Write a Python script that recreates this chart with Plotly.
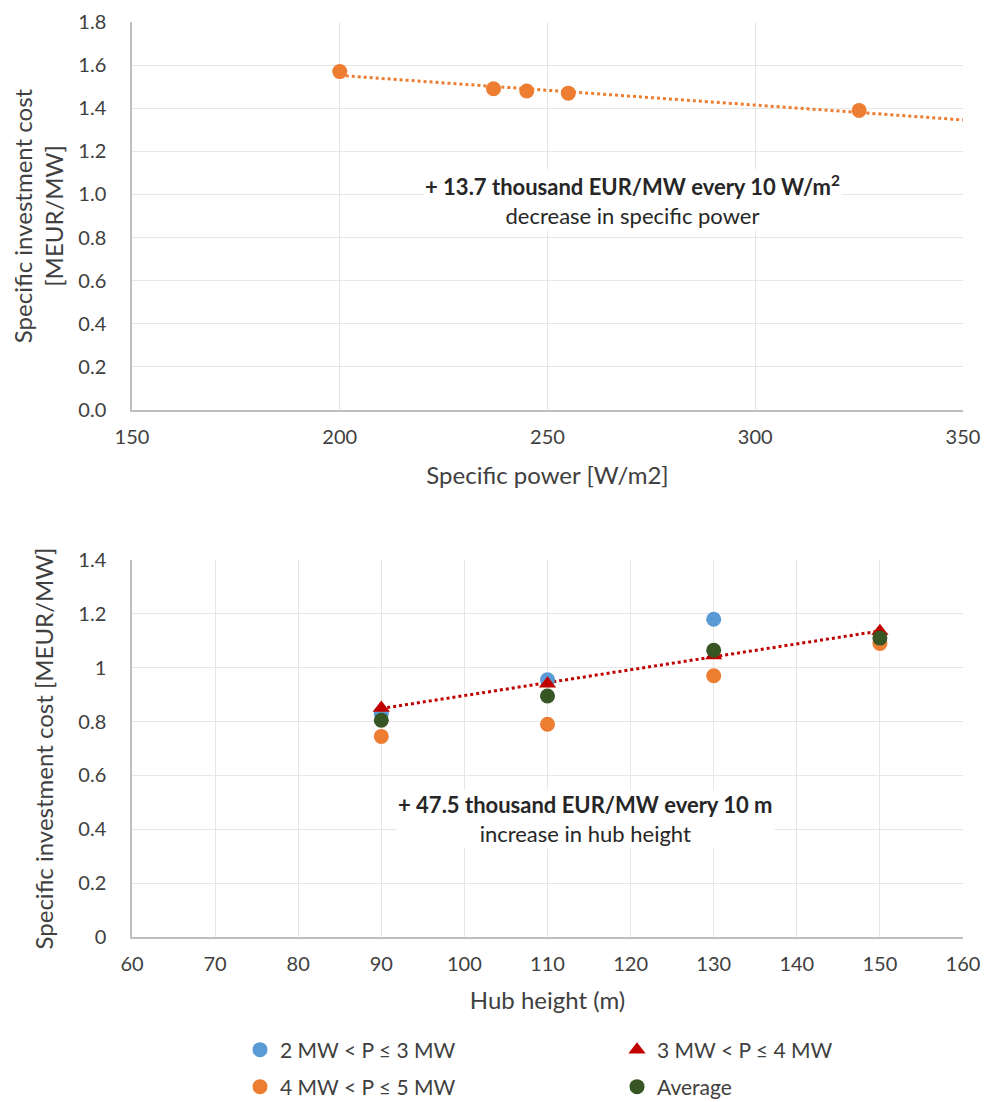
import numpy as np
import plotly.graph_objects as go
from plotly.subplots import make_subplots

# ---- Top chart data ----
sp_power = [200, 237, 245, 255, 325]
sp_cost = [1.57, 1.49, 1.48, 1.47, 1.39]

# ---- Bottom chart data ----
hub_blue = [90, 110, 130]
cost_blue = [0.83, 0.955, 1.18]
hub_red = [90, 110, 130, 150]
cost_red = [0.85, 0.94, 1.045, 1.135]
hub_orange = [90, 110, 130, 150]
cost_orange = [0.745, 0.79, 0.97, 1.09]
hub_avg = [90, 110, 130, 150]
cost_avg = [0.805, 0.895, 1.065, 1.11]

names = ["2 MW < P ≤ 3 MW", "3 MW < P ≤ 4 MW", "4 MW < P ≤ 5 MW", "Average"]
c_blue, c_red, c_orange, c_green = "#5B9BD5", "#C00000", "#ED7D31", "#375623"

FONT = "Lato, 'Open Sans', sans-serif"
TXT = "#404040"

fig = make_subplots(rows=2, cols=1)

# top: least-squares trendline (as in Excel), forward to 350
m1, b1 = np.polyfit(sp_power, sp_cost, 1)
tx = np.array([min(sp_power), 350])
fig.add_trace(go.Scatter(x=tx, y=m1 * tx + b1, mode="lines",
                         line=dict(color=c_orange, width=3, dash="dot"),
                         showlegend=False, hoverinfo="skip"), row=1, col=1)
fig.add_trace(go.Scatter(x=sp_power, y=sp_cost, mode="markers",
                         marker=dict(color=c_orange, size=15),
                         showlegend=False), row=1, col=1)

# bottom
m2, b2 = np.polyfit(hub_red, cost_red, 1)
tx2 = np.array([min(hub_red), max(hub_red)])
fig.add_trace(go.Scatter(x=tx2, y=m2 * tx2 + b2, mode="lines",
                         line=dict(color=c_red, width=3, dash="dot"),
                         showlegend=False, hoverinfo="skip"), row=2, col=1)
fig.add_trace(go.Scatter(x=hub_blue, y=cost_blue, mode="markers", name=names[0],
                         legend="legend",
                         marker=dict(color=c_blue, size=15)), row=2, col=1)
fig.add_trace(go.Scatter(x=hub_red, y=cost_red, mode="markers", name=names[1],
                         legend="legend",
                         marker=dict(color=c_red, size=15, symbol="triangle-up")), row=2, col=1)
fig.add_trace(go.Scatter(x=hub_orange, y=cost_orange, mode="markers", name=names[2],
                         legend="legend2",
                         marker=dict(color=c_orange, size=15)), row=2, col=1)
fig.add_trace(go.Scatter(x=hub_avg, y=cost_avg, mode="markers", name=names[3],
                         legend="legend2",
                         marker=dict(color=c_green, size=15)), row=2, col=1)

# page body adds an 8px offset; figure sized to fit the window
OFF = 8
W, H = 1003 - OFF, 1102 - OFF
ml, mr, mt = 132 - OFF, 40, 22 - OFF
mb = H + OFF - 937
ph = H - mt - mb
pw = W - ml - mr


def py(pix):
    """window pixel row -> paper y"""
    return (937 - pix) / ph


top_lo = py(410)
bot_hi = py(560)

axis_common = dict(showgrid=True, gridcolor="#E6E6E6", gridwidth=1,
                   showline=True, linecolor="#BFBFBF", linewidth=1.5,
                   zeroline=False, ticks="", automargin=False,
                   ticklabeloverflow="allow",
                   tickfont=dict(family=FONT, size=20, color=TXT),
                   title_font=dict(family=FONT, size=24, color=TXT))

fig.update_xaxes(**axis_common, ticklabelstandoff=8)
fig.update_yaxes(**axis_common, ticklabelstandoff=20)

fig.update_xaxes(range=[150, 350], dtick=50, title_text="Specific power [W/m2]",
                 title_standoff=20, row=1, col=1)
fig.update_yaxes(range=[0, 1.8], tick0=0, dtick=0.2, tickformat=".1f",
                 title_text="Specific investment cost<br>[MEUR/MW]",
                 title_standoff=12, domain=[top_lo, 1], row=1, col=1)
fig.update_xaxes(range=[60, 160], dtick=10, title_text="Hub height (m)",
                 title_standoff=18, row=2, col=1)
fig.update_yaxes(range=[0, 1.4], tick0=0, dtick=0.2,
                 title_text="Specific investment cost [MEUR/MW]",
                 title_standoff=18, domain=[0, bot_hi], row=2, col=1)

fig.add_annotation(xref="x", yref="y", x=270.5, y=0.974,
                   text="<b>+ 13.7 thousand EUR/MW every 10 W/m<sup>2</sup></b><br>decrease in specific power",
                   showarrow=False, bgcolor="white",
                   font=dict(family=FONT, size=22, color="#262626"))
fig.add_annotation(xref="x2", yref="y2", x=114.6, y=0.438,
                   text="<b>+ 47.5 thousand EUR/MW every 10 m</b><br>increase in hub height",
                   showarrow=False, bgcolor="white",
                   font=dict(family=FONT, size=22, color="#262626"))

legend_common = dict(orientation="h", xanchor="left", yanchor="middle",
                     x=(240 - 132) / pw,
                     entrywidth=332, entrywidthmode="pixels",
                     font=dict(family=FONT, size=21, color=TXT),
                     bgcolor="rgba(0,0,0,0)")

fig.update_layout(
    width=W, height=H,
    margin=dict(l=ml, r=mr, t=mt, b=mb, autoexpand=False),
    paper_bgcolor="white", plot_bgcolor="white",
    font=dict(family=FONT, color=TXT),
    legend=dict(**legend_common, y=py(1050)),
    legend2=dict(**legend_common, y=py(1087)),
)

fig.write_html("out.html")
